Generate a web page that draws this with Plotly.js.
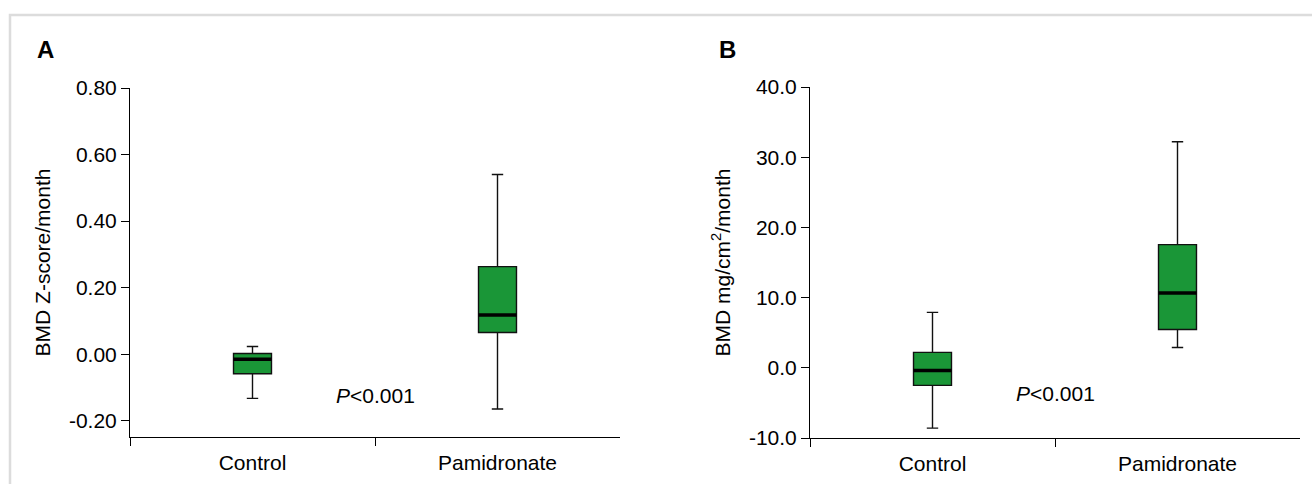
<!DOCTYPE html>
<html>
<head>
<meta charset="utf-8">
<script src="https://cdn.plot.ly/plotly-3.0.1.min.js"></script>
<style>html,body{margin:0;padding:0;background:#fff;}#chart{width:1312px;height:484px;}</style>
</head>
<body>
<div id="chart"></div>
<script>
// ---- Data ----
const categories = ['Control', 'Pamidronate'];

// Panel A: BMD Z-score/month
const zLower  = [-0.133, -0.165];
const zQ1     = [-0.059, 0.065];
const zMedian = [-0.015, 0.118];
const zQ3     = [0.002, 0.263];
const zUpper  = [0.023, 0.540];
const zTickVals = [-0.2, 0, 0.2, 0.4, 0.6, 0.8];
const zTickText = ['-0.20', '0.00', '0.20', '0.40', '0.60', '0.80'];

// Panel B: BMD mg/cm2/month
const mLower  = [-8.6, 2.9];
const mQ1     = [-2.5, 5.46];
const mMedian = [-0.4, 10.67];
const mQ3     = [2.2, 17.55];
const mUpper  = [7.9, 32.2];
const mTickVals = [-10, 0, 10, 20, 30, 40];
const mTickText = ['-10.0', '0.0', '10.0', '20.0', '30.0', '40.0'];

const pText = '<i>P</i>&lt;0.001';

// ---- Styling ----
const FONT = 'Liberation Sans, Arial, sans-serif';
const GREEN = '#1a9637';
const BOXW = 0.155;
const W = 1312, H = 484;

function boxTrace(q1, med, q3, lo, hi, xa, ya) {
  return {
    type: 'box', x: categories, q1: q1, median: med, q3: q3,
    lowerfence: lo, upperfence: hi, width: BOXW, whiskerwidth: 0.3,
    fillcolor: GREEN, line: {color: '#111', width: 1.4},
    boxpoints: false, showlegend: false, hoverinfo: 'skip',
    xaxis: xa, yaxis: ya
  };
}

const data = [
  boxTrace(zQ1, zMedian, zQ3, zLower, zUpper, 'x', 'y'),
  boxTrace(mQ1, mMedian, mQ3, mLower, mUpper, 'x2', 'y2')
];

function medianShapes(med, xr, yr) {
  return med.map((m, i) => ({
    type: 'line', xref: xr, yref: yr,
    x0: i - BOXW / 2, x1: i + BOXW / 2, y0: m, y1: m,
    line: {color: '#000', width: 3.5}
  }));
}

function xaxisDef(l, r, anchor) {
  return {
    domain: [l / W, r / W], anchor: anchor, type: 'category',
    categoryorder: 'array', categoryarray: categories, range: [-0.5, 1.5],
    tickson: 'boundaries', ticks: 'outside', ticklen: 8, tickcolor: '#000',
    ticklabelstandoff: 7,
    showline: true, linecolor: '#000', linewidth: 1, showgrid: false, zeroline: false,
    tickfont: {family: FONT, size: 21, color: '#000'}, automargin: false, fixedrange: true
  };
}
function yaxisDef(top, bottom, anchor, range, tv, tt, title) {
  return {
    domain: [(H - bottom) / H, (H - top) / H], anchor: anchor, range: range,
    tickmode: 'array', tickvals: tv, ticktext: tt,
    ticks: 'outside', ticklen: 8, tickcolor: '#000',
    showline: true, linecolor: '#000', linewidth: 1, showgrid: false, zeroline: false,
    tickfont: {family: FONT, size: 21, color: '#000'},
    title: {text: title, font: {family: FONT, size: 21, color: '#000'}, standoff: 12},
    automargin: false, fixedrange: true
  };
}

const layout = {
  width: W, height: H,
  margin: {l: 0, r: 0, t: 0, b: 0},
  paper_bgcolor: '#fff', plot_bgcolor: 'rgba(0,0,0,0)',
  showlegend: false,
  xaxis: xaxisDef(130, 620, 'y'),
  yaxis: yaxisDef(88, 437, 'x', [-0.249, 0.8], zTickVals, zTickText, 'BMD Z-score/month'),
  xaxis2: xaxisDef(810, 1300, 'y2'),
  yaxis2: yaxisDef(87, 438, 'x2', [-10, 40], mTickVals, mTickText, 'BMD mg/cm<sup>2</sup>/month'),
  shapes: [
    {type: 'rect', xref: 'paper', yref: 'paper', x0: 10 / W, x1: 1.05, y0: -0.05, y1: (H - 15) / H,
     line: {color: '#dcdcdc', width: 2.5}, fillcolor: 'rgba(0,0,0,0)', layer: 'below'}
  ].concat(medianShapes(zMedian, 'x', 'y')).concat(medianShapes(mMedian, 'x2', 'y2')),
  annotations: [
    {text: '<b>A</b>', xref: 'paper', yref: 'paper', x: 45 / W, y: (H - 49) / H,
     showarrow: false, xanchor: 'center', yanchor: 'middle', font: {family: FONT, size: 24, color: '#000'}},
    {text: '<b>B</b>', xref: 'paper', yref: 'paper', x: 727 / W, y: (H - 49) / H,
     showarrow: false, xanchor: 'center', yanchor: 'middle', font: {family: FONT, size: 24, color: '#000'}},
    {text: pText, xref: 'x', yref: 'y', x: 0.5, y: -0.125, showarrow: false,
     xanchor: 'center', yanchor: 'middle', font: {family: FONT, size: 21, color: '#000'}},
    {text: pText, xref: 'x2', yref: 'y2', x: 0.5, y: -3.7, showarrow: false,
     xanchor: 'center', yanchor: 'middle', font: {family: FONT, size: 21, color: '#000'}}
  ]
};

Plotly.newPlot('chart', data, layout, {staticPlot: true, displayModeBar: false});
</script>
</body>
</html>
